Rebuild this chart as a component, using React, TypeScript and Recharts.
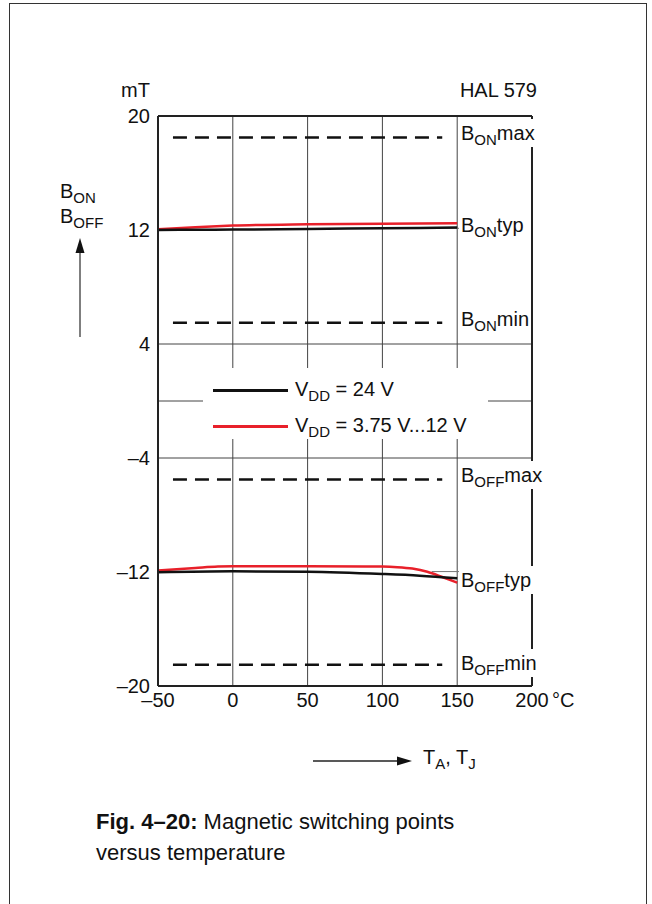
import React from 'react';
import { LineChart, Line, XAxis, YAxis, ReferenceLine } from 'recharts';

// temperature axis (°C) and switching points (mT)
const xTicks = [-50, 0, 50, 100, 150, 200];
const yTicks = [-20, -12, -4, 4, 12, 20];
const gridX = [0, 50, 100, 150];
const gridY = [4, 0, -4];

const bonTemps = [-50, -25, 0, 50, 100, 150];
const bonTyp24 = [12.0, 12.02, 12.03, 12.07, 12.12, 12.17];
const bonTypLow = [12.06, 12.2, 12.31, 12.4, 12.44, 12.48];

const boffTemps24 = [-50, 0, 50, 100, 125, 150];
const boffTyp24 = [-12.02, -11.95, -11.98, -12.14, -12.26, -12.44];
const boffTempsLow = [-50, -25, -10, 0, 50, 100, 110, 120, 130, 140, 150];
const boffTypLow = [-11.9, -11.72, -11.62, -11.6, -11.6, -11.62, -11.66, -11.76, -11.98, -12.35, -12.75];

const limitTemps = [-40, 140];
const limits = [18.5, 5.5, -5.5, -18.5];

const font = "'Liberation Sans', Arial, Helvetica, sans-serif";

const pairs = (xs: number[], ys: number[]) => xs.map((t, i) => ({ t, v: ys[i] }));
const dash = (v: number) => (v < 0 ? '\u2013' + Math.abs(v) : String(v));

const XTick = (props: any) => {
    const { x, y, payload } = props;
    return (
        <g>
            <text x={x} y={y} dy="0.71em" textAnchor="middle" fontSize={20} fill="#111" fontFamily={font}>
                {dash(payload.value)}
            </text>
            {payload.value === 200 && (
                <text x={x + 20} y={y} dy="0.71em" textAnchor="start" fontSize={20} fill="#111" fontFamily={font}>
                    °C
                </text>
            )}
        </g>
    );
};

const Sub = ({ children }: { children: React.ReactNode }) => (
    <span style={{ fontSize: 15, position: 'relative', top: 5 }}>{children}</span>
);

// positioned text, y is the vertical centre
const Txt = ({ x, y, right, bg, children, style }: any) => (
    <div
        style={{
            position: 'absolute',
            top: y - 12,
            height: 24,
            lineHeight: '24px',
            fontSize: 20,
            color: '#111',
            whiteSpace: 'nowrap',
            background: bg ? '#fff' : undefined,
            padding: bg ? '2px 2px' : undefined,
            marginTop: bg ? -2 : 0,
            marginLeft: bg ? -2 : 0,
            ...(right ? { right: 652 - x } : { left: x }),
            ...style,
        }}
    >
        {children}
    </div>
);

const rightLabels = [
    { y: 133, b: 'ON', s: 'max' },
    { y: 225, b: 'ON', s: 'typ' },
    { y: 319, b: 'ON', s: 'min' },
    { y: 475, b: 'OFF', s: 'max' },
    { y: 580, b: 'OFF', s: 'typ' },
    { y: 663, b: 'OFF', s: 'min' },
];

export default function App() {
    return (
        <div
            style={{
                position: 'absolute',
                left: 0,
                top: 0,
                width: 652,
                height: 904,
                overflow: 'hidden',
                background: '#fff',
                fontFamily: font,
            }}
        >
            {/* outer frame */}
            <div
                style={{
                    position: 'absolute',
                    left: 9,
                    top: 3,
                    width: 638,
                    height: 960,
                    border: '1.5px solid #333',
                    boxSizing: 'border-box',
                }}
            />

            <div style={{ position: 'absolute', left: 0, top: 0 }}>
                <LineChart width={652} height={720} margin={{ top: 116, right: 120, bottom: 4, left: 98 }}>
                    <XAxis
                        type="number"
                        dataKey="t"
                        domain={[-50, 200]}
                        ticks={xTicks}
                        tickLine={false}
                        tickSize={0}
                        tickMargin={7}
                        height={30}
                        axisLine={{ stroke: '#222', strokeWidth: 2 }}
                        tick={<XTick />}
                    />
                    <YAxis
                        type="number"
                        dataKey="v"
                        domain={[-20, 20]}
                        ticks={yTicks}
                        tickLine={false}
                        tickSize={0}
                        tickMargin={8}
                        width={60}
                        axisLine={{ stroke: '#222', strokeWidth: 2 }}
                        tickFormatter={dash}
                        tick={{ fontSize: 20, fill: '#111', fontFamily: font }}
                    />

                    {gridX.map((v) => (
                        <ReferenceLine key={'gx' + v} x={v} stroke="#444" strokeWidth={1} />
                    ))}
                    {gridY.map((v) => (
                        <ReferenceLine key={'gy' + v} y={v} stroke="#444" strokeWidth={1} />
                    ))}
                    <ReferenceLine y={20} stroke="#222" strokeWidth={2} />
                    <ReferenceLine x={200} stroke="#222" strokeWidth={2} />

                    {/* leaders to typ labels */}
                    <ReferenceLine
                        segment={[{ x: 135, y: 12.12 }, { x: 153, y: 12.12 }]}
                        stroke="#777"
                        strokeWidth={1}
                    />
                    <ReferenceLine
                        segment={[{ x: 133, y: -11.97 }, { x: 153, y: -11.97 }]}
                        stroke="#777"
                        strokeWidth={1}
                    />

                    {limits.map((v) => (
                        <Line
                            key={'lim' + v}
                            data={pairs(limitTemps, [v, v])}
                            dataKey="v"
                            stroke="#111"
                            strokeWidth={2.5}
                            strokeDasharray="14 8"
                            dot={false}
                            isAnimationActive={false}
                        />
                    ))}

                    <Line
                        data={pairs(bonTemps, bonTypLow)}
                        dataKey="v"
                        type="monotone"
                        stroke="#e8202a"
                        strokeWidth={2.5}
                        dot={false}
                        isAnimationActive={false}
                    />
                    <Line
                        data={pairs(bonTemps, bonTyp24)}
                        dataKey="v"
                        type="monotone"
                        stroke="#111"
                        strokeWidth={2.5}
                        dot={false}
                        isAnimationActive={false}
                    />
                    <Line
                        data={pairs(boffTempsLow, boffTypLow)}
                        dataKey="v"
                        type="monotone"
                        stroke="#e8202a"
                        strokeWidth={2.5}
                        dot={false}
                        isAnimationActive={false}
                    />
                    <Line
                        data={pairs(boffTemps24, boffTyp24)}
                        dataKey="v"
                        type="monotone"
                        stroke="#111"
                        strokeWidth={2.5}
                        dot={false}
                        isAnimationActive={false}
                    />
                </LineChart>
            </div>

            {/* legend box */}
            <div
                style={{
                    position: 'absolute',
                    left: 203,
                    top: 368,
                    width: 285,
                    height: 71,
                    background: '#fff',
                }}
            >
                <div style={{ position: 'absolute', left: 10, top: 20.5, width: 75, height: 3, background: '#111' }} />
                <div style={{ position: 'absolute', left: 10, top: 56.5, width: 75, height: 3, background: '#e8202a' }} />
            </div>
            <Txt x={295} y={389}>
                V<Sub>DD</Sub> = 24 V
            </Txt>
            <Txt x={295} y={425}>
                V<Sub>DD</Sub> = 3.75 V...12 V
            </Txt>

            {/* titles */}
            <Txt x={150} y={90} right>
                mT
            </Txt>
            <Txt x={537} y={90} right>
                HAL 579
            </Txt>

            {/* y quantity */}
            <Txt x={60} y={191}>
                B<Sub>ON</Sub>
            </Txt>
            <Txt x={60} y={216}>
                B<Sub>OFF</Sub>
            </Txt>

            {rightLabels.map((l) => (
                <Txt key={l.b + l.s} x={461} y={l.y} bg>
                    B<Sub>{l.b}</Sub>
                    {l.s}
                </Txt>
            ))}

            {/* axis arrows */}
            <svg width={652} height={904} style={{ position: 'absolute', left: 0, top: 0, pointerEvents: 'none' }}>
                <line x1={80} y1={337} x2={80} y2={250} stroke="#555" strokeWidth={1.5} />
                <polygon points="80,238 75.5,253 84.5,253" fill="#111" />
                <line x1={313} y1={761} x2={400} y2={761} stroke="#222" strokeWidth={1.5} />
                <polygon points="412,761 397,756.5 397,765.5" fill="#111" />
            </svg>
            <Txt x={423} y={757}>
                T<Sub>A</Sub>, T<Sub>J</Sub>
            </Txt>

            {/* caption */}
            <div
                style={{
                    position: 'absolute',
                    left: 96,
                    top: 806,
                    fontSize: 22,
                    lineHeight: '31px',
                    color: '#111',
                }}
            >
                <b>Fig. 4–20:</b> Magnetic switching points
                <br />
                versus temperature
            </div>
        </div>
    );
}
